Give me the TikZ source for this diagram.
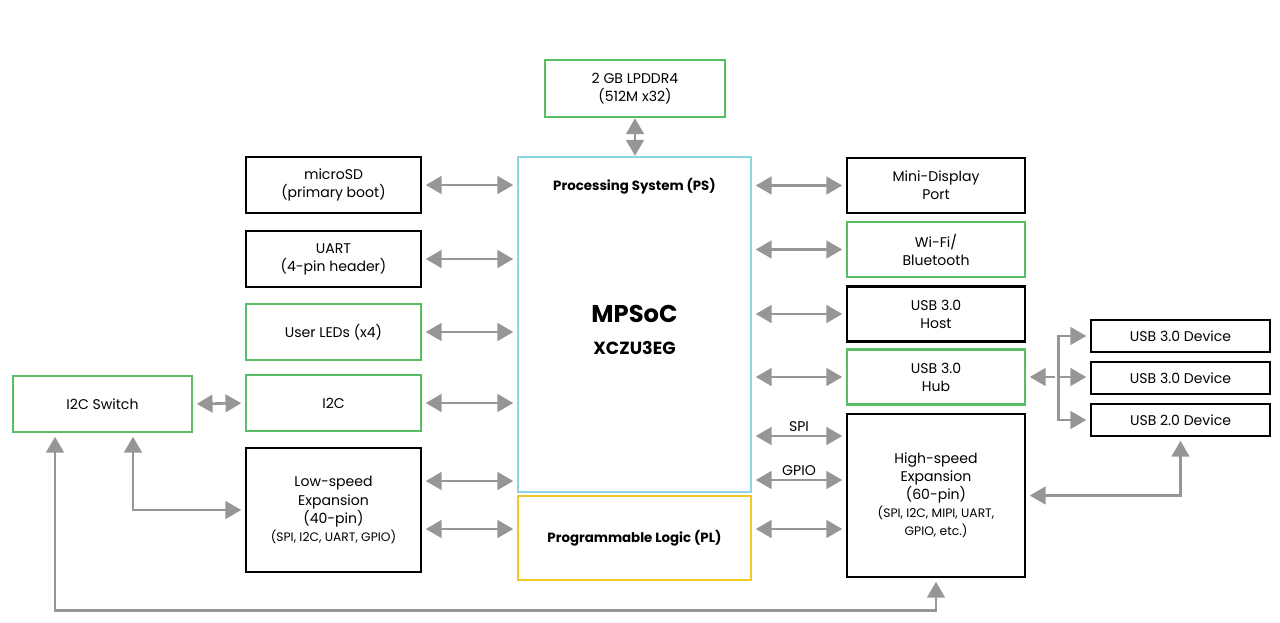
\documentclass[tikz,border=0pt]{standalone}
\usepackage{fontspec}
\setmainfont{Poppins}
\usetikzlibrary{arrows.meta,positioning}

\definecolor{boxgreen}{RGB}{88,190,102}
\definecolor{pscyan}{RGB}{140,214,228}
\definecolor{plyellow}{RGB}{240,200,40}
\definecolor{linkgray}{RGB}{150,150,150}

\newcommand{\subtxt}{\fontsize{7}{10.3}\selectfont}
\newcommand{\boldtxt}{\bfseries\fontsize{7.6}{10}\selectfont}

\begin{document}
\begin{tikzpicture}[x=0.02cm,y=-0.02cm,>={Triangle[length=9pt,width=10pt]},
  box/.style={draw=black,line width=1.4pt,align=center,inner sep=1pt,
    minimum width=3.5cm,minimum height=1.12cm,font=\fontsize{8}{10.3}\selectfont},
  gbox/.style={box,draw=boxgreen},
  rbox/.style={box,minimum width=3.56cm,minimum height=1.1cm},
  dev/.style={box,minimum width=3.58cm,minimum height=0.64cm},
  link/.style={draw=linkgray,line width=1.5pt,<->,shorten <=2pt,shorten >=2pt}]
\useasboundingbox (0,0) rectangle (1280,622);

\node[gbox,minimum width=3.6cm,minimum height=1.14cm] (ddr) at (635,88.5) {2 GB LPDDR4\\(512M x32)};
\node[draw=pscyan,line width=1.4pt,minimum width=4.66cm,minimum height=6.7cm] (ps) at (634.5,324.5) {};
\node[font=\boldtxt] (pstitle) at (ps.north) [yshift=-0.6cm] {Processing System (PS)};
\node[font=\bfseries\fontsize{13.8}{16}\selectfont] (mpsoc) at (ps.center) [yshift=0.22cm] {MPSoC};
\node[font=\bfseries\fontsize{10}{12}\selectfont,below=4pt of mpsoc] (xczu) {XCZU3EG};
\node[draw=plyellow,line width=1.4pt,minimum width=4.66cm,minimum height=1.68cm,font=\boldtxt] (pl) at (634.5,538) {Programmable Logic (PL)};

\node[box] (sd) at (333.5,185) {microSD\\(primary boot)};
\node[box] (uart) at (333.5,259) {UART\\(4-pin header)};
\node[gbox] (leds) at (333.5,332) {User LEDs (x4)};
\node[gbox] (i2c) at (333.5,403) {I2C};
\node[box,minimum height=2.48cm] (ls) at (333.5,510) {Low-speed\\Expansion\\(40-pin)\\{\subtxt(SPI, I2C, UART, GPIO)}};
\node[gbox,minimum width=3.58cm] (sw) at (102.5,404) {I2C Switch};

\node[rbox] (dp) at (936,185.5) {Mini-Display\\Port};
\node[rbox,draw=boxgreen] (wifi) at (936,249.5) {Wi-Fi/\\Bluetooth};
\node[rbox] (host) at (936,314) {USB 3.0\\Host};
\node[rbox,draw=boxgreen] (hub) at (936,377) {USB 3.0\\Hub};
\node[rbox,minimum height=3.26cm] (hs) at (936,495.5) {High-speed\\Expansion\\(60-pin)\\{\subtxt(SPI, I2C, MIPI, UART,}\\{\subtxt GPIO, etc.)}};

\node[dev] (dev1) at (1180.5,336) {USB 3.0 Device};
\node[dev] (dev2) at (1180.5,378) {USB 3.0 Device};
\node[dev] (dev3) at (1180.5,420) {USB 2.0 Device};

\draw[link,shorten <=0pt,shorten >=0pt] (ddr.south) -- (ddr.south |- ps.north);
\foreach \b in {sd,uart,leds,i2c}
  \draw[link] (\b.east) -- (\b.east -| ps.west);
\foreach \b in {dp,wifi,host,hub}
  \draw[link] (ps.east |- \b.west) -- (\b.west);
\draw[link] (sw.east) -- (i2c.west);

\coordinate (lsps) at ([yshift=0.58cm]ls.east);
\coordinate (plmid) at ([yshift=0.18cm]pl.west);
\coordinate (spi) at ([yshift=1.19cm]hs.west);
\coordinate (gpio) at ([yshift=0.31cm]hs.west);
\draw[link] (lsps) -- (lsps -| ps.west);
\draw[link] (plmid -| ls.east) -- (plmid);
\draw[link] (plmid -| pl.east) -- (plmid -| hs.west);
\draw[link] (spi -| ps.east) -- node[above,inner sep=1.5pt,font=\fontsize{8}{10}\selectfont] (spilbl) {SPI} (spi);
\draw[link] (gpio -| ps.east) -- node[above,inner sep=1.5pt,font=\fontsize{8}{10}\selectfont] (gpiolbl) {GPIO} (gpio);

\coordinate (hubj) at ([xshift=0.64cm]hub.east);
\draw[link,<-] (hub.east) -- (hubj);
\draw[link,->,shorten <=0pt] (hubj) |- (dev1.west);
\draw[link,->,shorten <=0pt] (hubj) -- (hubj -| dev2.west);
\draw[link,->,shorten <=0pt] (hubj) |- (dev3.west);
\draw[link] (dev3.south) |- (hs.east);

\draw[link] ([xshift=0.61cm]sw.south) |- (ls.west);
\draw[link] ([xshift=-0.95cm]sw.south) -- ++(0,177) -| (hs.south);
\end{tikzpicture}
\end{document}
